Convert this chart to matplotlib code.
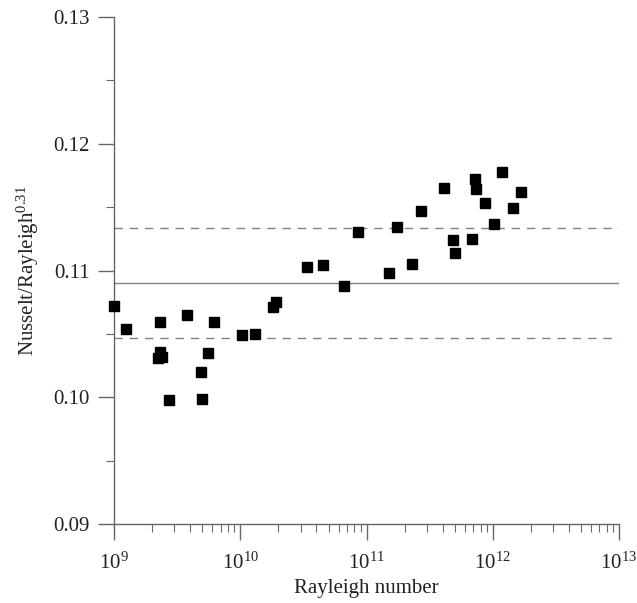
import numpy as np
import matplotlib
matplotlib.use('Agg')
import matplotlib.pyplot as plt
from matplotlib.ticker import LogLocator, LogFormatterMathtext, MultipleLocator, FormatStrFormatter

plt.rcParams['font.family'] = ['Liberation Serif', 'DejaVu Serif']
plt.rcParams['mathtext.fontset'] = 'custom'
plt.rcParams['mathtext.rm'] = 'Liberation Serif'
plt.rcParams['mathtext.it'] = 'Liberation Serif:italic'

# measured Nusselt/Ra^0.31 against Rayleigh number
rayleigh = [1.0e9, 1.25e9, 2.31e9, 2.31e9, 2.21e9, 2.40e9, 2.72e9, 3.78e9, 4.93e9, 5.0e9,
            5.56e9, 6.17e9, 1.04e10, 1.30e10, 1.82e10, 1.93e10, 3.35e10, 4.51e10, 6.67e10,
            8.59e10, 1.51e11, 1.75e11, 2.31e11, 2.69e11, 4.11e11, 4.84e11, 4.99e11, 6.86e11,
            7.28e11, 7.39e11, 8.64e11, 1.02e12, 1.19e12, 1.44e12, 1.67e12]
nu_ratio = [0.1072, 0.1054, 0.1059, 0.1036, 0.1031, 0.1032, 0.0998, 0.1065, 0.1020, 0.0999,
            0.1035, 0.1059, 0.1049, 0.1050, 0.1071, 0.1075, 0.1103, 0.1104, 0.1088,
            0.1130, 0.1098, 0.1134, 0.1105, 0.1147, 0.1165, 0.1124, 0.1114, 0.1125,
            0.1172, 0.1164, 0.1153, 0.1137, 0.1178, 0.1149, 0.1162]

mean_level = 0.1090
upper_level = 0.11337
lower_level = 0.10465

fig = plt.figure(figsize=(6.37, 6.03), dpi=100)
ax = fig.add_axes([0.179, 0.131, 0.7928, 0.8408])

ax.axhline(mean_level, color='#808080', lw=1.0, zorder=1)
ax.axhline(upper_level, color='#808080', lw=1.0, ls=(0, (6, 5)), zorder=1)
ax.axhline(lower_level, color='#808080', lw=1.0, ls=(0, (6, 5)), zorder=1)

ax.plot(rayleigh, nu_ratio, 's', color='black', markersize=6.5, clip_on=False, zorder=3)

ax.set_xscale('log')
ax.set_xlim(1e9, 1e13)
ax.set_ylim(0.09, 0.13)

ax.xaxis.set_major_locator(LogLocator(base=10, numticks=10))
ax.xaxis.set_minor_locator(LogLocator(base=10, subs=np.arange(2, 10), numticks=20))
ax.xaxis.set_major_formatter(LogFormatterMathtext())
ax.yaxis.set_major_locator(MultipleLocator(0.01))
ax.yaxis.set_minor_locator(MultipleLocator(0.005))
ax.yaxis.set_major_formatter(FormatStrFormatter('%.2f'))

for side in ['top', 'right']:
    ax.spines[side].set_visible(False)
for side in ['left', 'bottom']:
    ax.spines[side].set_color('#666666')
    ax.spines[side].set_linewidth(1.0)

ax.tick_params(which='major', length=11.5, width=1.0, color='#666666',
               labelsize=15, labelcolor='#222222')
ax.tick_params(which='minor', length=6, width=0.8, color='#666666')
ax.tick_params(axis='y', which='major', pad=6)
ax.tick_params(axis='x', which='major', pad=9)

ax.set_xlabel('Rayleigh number', fontsize=15, color='#222222', labelpad=4)
ax.set_ylabel(r'Nusselt/Rayleigh$^{0.31}$', fontsize=15, color='#222222', labelpad=9)

fig.savefig('out.png', dpi=100)
